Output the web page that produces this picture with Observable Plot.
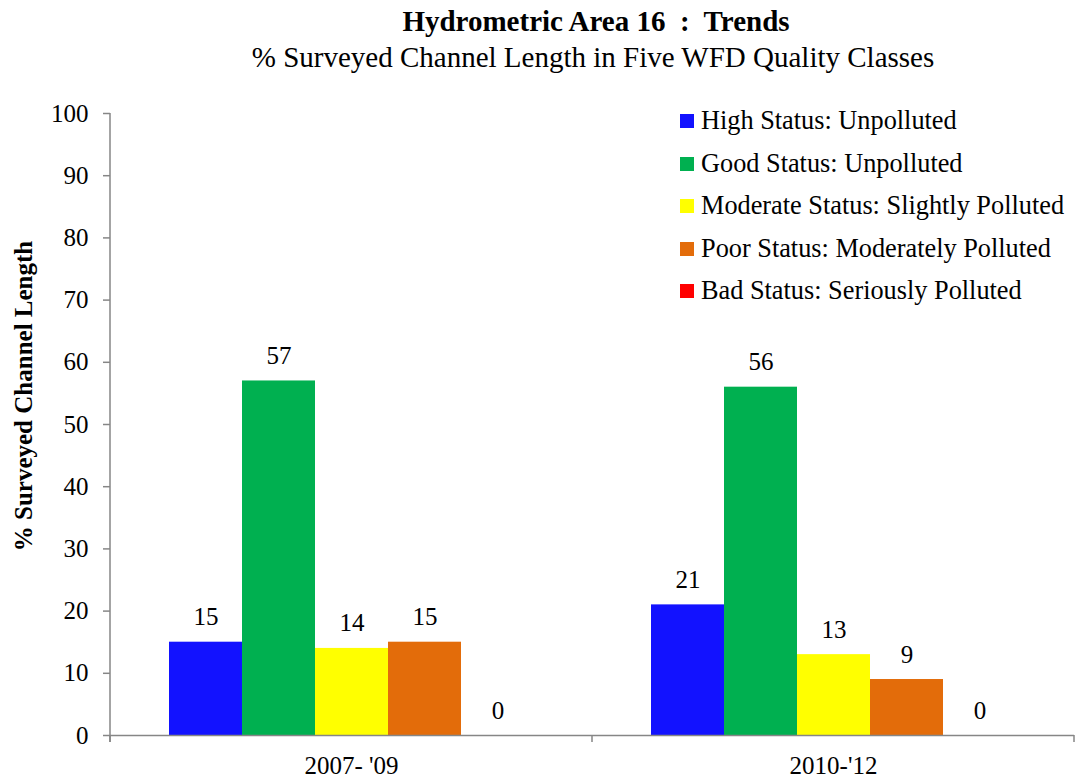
<!DOCTYPE html>
<html><head><meta charset="utf-8">
<script src="https://cdn.jsdelivr.net/npm/d3@7"></script>
<script src="https://cdn.jsdelivr.net/npm/@observablehq/plot@0.6"></script>
<style>
body{margin:0;background:#fff;font-family:"Liberation Serif","Times New Roman",serif;color:#000;}
#wrap{position:relative;width:1075px;height:780px;overflow:hidden;}
#title{position:absolute;left:117px;width:958px;top:4px;text-align:center;font-weight:bold;font-size:29px;line-height:34px;white-space:pre;}
#subtitle{position:absolute;left:114px;width:958px;top:40px;text-align:center;font-size:29px;line-height:34px;}
#chart{position:absolute;left:0;top:80px;}
#ylabel{position:absolute;left:24px;top:396px;transform:translate(-50%,-50%) rotate(-90deg);font-weight:bold;font-size:25px;white-space:nowrap;line-height:28px;}
#legend{position:absolute;left:680px;top:0;}
.lrow{position:absolute;left:0;display:flex;align-items:center;white-space:nowrap;font-size:26.3px;height:30px;}
.sw{width:14px;height:14px;margin-right:7px;flex:none;}
</style>
</head><body>
<div id="wrap">
  <div id="title">Hydrometric Area 16  :  Trends</div>
  <div id="subtitle">% Surveyed Channel Length in Five WFD Quality Classes</div>
  <div id="chart"></div>
  <div id="ylabel">% Surveyed Channel Length</div>
  <div id="legend"></div>
</div>
<script>
const periods = ["2007- '09", "2010-'12"];
const statuses = [
  "High Status: Unpolluted",
  "Good Status: Unpolluted",
  "Moderate Status: Slightly Polluted",
  "Poor Status: Moderately Polluted",
  "Bad Status: Seriously Polluted"
];
const colors = ["#1212FF", "#00B050", "#FFFF00", "#E36C0A", "#FF0000"];
const values2007 = [15, 57, 14, 15, 0];
const values2010 = [21, 56, 13, 9, 0];
const yTicks = [0, 10, 20, 30, 40, 50, 60, 70, 80, 90, 100];

const seriesByPeriod = [values2007, values2010];
const rows = [];
periods.forEach((p, i) => statuses.forEach((s, j) => rows.push({period: p, status: s, value: seriesByPeriod[i][j]})));

const axisGray = "#868686";
const chart = Plot.plot({
  width: 1075,
  height: 700,
  marginLeft: 110,
  marginRight: 1,
  marginTop: 33,
  marginBottom: 45,
  style: {fontFamily: "'Liberation Serif','Times New Roman',serif", fontSize: "25px", color: "black", background: "white", overflow: "visible"},
  fx: {domain: periods, padding: 0, label: null},
  x: {domain: statuses, paddingInner: 0, paddingOuter: 0.757, axis: null},
  y: {domain: [0, 100], label: null},
  color: {domain: statuses, range: colors},
  marks: [
    Plot.barY(rows, {fx: "period", x: "status", y: "value", fill: "status"}),
    Plot.text(rows, {fx: "period", x: "status", y: "value", text: d => String(d.value), dy: -17, lineAnchor: "bottom", fontSize: 25, fill: "black"}),
    Plot.ruleY([0], {stroke: axisGray, strokeWidth: 1.5}),
    Plot.axisY({ticks: yTicks, tickSize: 7, tickPadding: 15, fontSize: 25, label: null, stroke: axisGray, fill: "black", strokeWidth: 1.5}),
    Plot.axisFx({anchor: "bottom", tickSize: 0, tickPadding: 21, fontSize: 25, label: null, fill: "black"})
  ]
});
document.getElementById("chart").appendChild(chart);

// axis line and category boundary ticks from the plot's own scales
const fx = chart.scale("fx");
const ys = chart.scale("y");
const svg = d3.select(chart);
const y0 = ys.apply(0), y100 = ys.apply(100);
const left = fx.apply(periods[0]);
const bounds = periods.map(p => fx.apply(p)).concat([fx.apply(periods[periods.length - 1]) + fx.bandwidth]);
const g = svg.append("g").attr("stroke", axisGray).attr("stroke-width", 1.5);
g.append("line").attr("x1", left).attr("x2", left).attr("y1", y100).attr("y2", y0 + 7);
bounds.forEach(b => g.append("line").attr("x1", b).attr("x2", b).attr("y1", y0).attr("y2", y0 + 7));

// legend
const legend = document.getElementById("legend");
statuses.forEach((s, i) => {
  const row = document.createElement("div");
  row.className = "lrow";
  row.style.top = (106 + i * 42.5) + "px";
  const sw = document.createElement("div");
  sw.className = "sw";
  sw.style.background = colors[i];
  const t = document.createElement("span");
  t.textContent = s;
  row.appendChild(sw); row.appendChild(t);
  legend.appendChild(row);
});
</script>
</body></html>
